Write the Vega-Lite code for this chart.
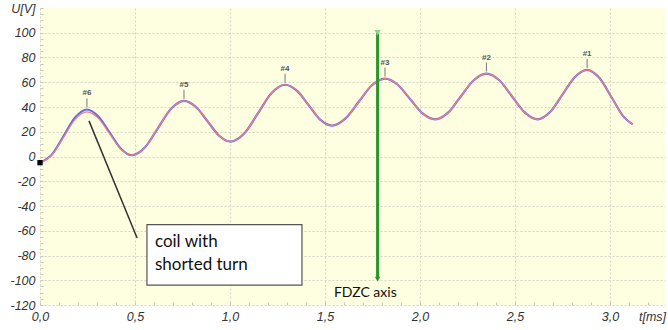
{
  "$schema": "https://vega.github.io/schema/vega-lite/v6.json",
  "width": 625,
  "height": 297,
  "autosize": "none",
  "padding": {"left": 40, "top": 8, "right": 3, "bottom": 25},
  "background": "white",
  "config": {
    "view": {"stroke": null, "fill": "#fefee0"},
    "axis": {
      "labelFont": "Liberation Sans",
      "labelFontStyle": "italic",
      "labelFontSize": 12.5,
      "labelColor": "#333333",
      "domain": false,
      "gridColor": "#d4d4c4",
      "gridDash": [2, 2],
      "gridWidth": 1,
      "tickColor": "#c8c8b8",
      "titleFont": "Liberation Sans",
      "titleFontStyle": "italic",
      "titleFontWeight": "normal",
      "titleFontSize": 12.5,
      "titleColor": "#333333"
    }
  },
  "datasets": {
    "wave": [
      {"t": 0.0, "u1": -5, "u2": -5},
      {"t": 0.062, "u1": 1.5, "u2": 1},
      {"t": 0.124, "u1": 16.5, "u2": 15.5},
      {"t": 0.185, "u1": 31.5, "u2": 30},
      {"t": 0.247, "u1": 38, "u2": 36},
      {"t": 0.306, "u1": 32.5, "u2": 31},
      {"t": 0.366, "u1": 19.5, "u2": 18.5},
      {"t": 0.425, "u1": 6.5, "u2": 6},
      {"t": 0.484, "u1": 1, "u2": 1},
      {"t": 0.553, "u1": 7.4, "u2": 7.4},
      {"t": 0.621, "u1": 23, "u2": 23},
      {"t": 0.69, "u1": 38.6, "u2": 38.6},
      {"t": 0.758, "u1": 45, "u2": 45},
      {"t": 0.82, "u1": 40.2, "u2": 40.2},
      {"t": 0.882, "u1": 28.5, "u2": 28.5},
      {"t": 0.943, "u1": 16.8, "u2": 16.8},
      {"t": 1.005, "u1": 12, "u2": 12},
      {"t": 1.076, "u1": 18.7, "u2": 18.7},
      {"t": 1.148, "u1": 35, "u2": 35},
      {"t": 1.219, "u1": 51.3, "u2": 51.3},
      {"t": 1.29, "u1": 58, "u2": 58},
      {"t": 1.352, "u1": 53.2, "u2": 53.2},
      {"t": 1.414, "u1": 41.5, "u2": 41.5},
      {"t": 1.475, "u1": 29.8, "u2": 29.8},
      {"t": 1.537, "u1": 25, "u2": 25},
      {"t": 1.607, "u1": 30.6, "u2": 30.6},
      {"t": 1.677, "u1": 44, "u2": 44},
      {"t": 1.746, "u1": 57.4, "u2": 57.4},
      {"t": 1.816, "u1": 63, "u2": 63},
      {"t": 1.882, "u1": 58.2, "u2": 58.2},
      {"t": 1.948, "u1": 46.5, "u2": 46.5},
      {"t": 2.014, "u1": 34.8, "u2": 34.8},
      {"t": 2.08, "u1": 30, "u2": 30},
      {"t": 2.148, "u1": 35.4, "u2": 35.4},
      {"t": 2.215, "u1": 48.5, "u2": 48.5},
      {"t": 2.283, "u1": 61.6, "u2": 61.6},
      {"t": 2.35, "u1": 67, "u2": 67},
      {"t": 2.418, "u1": 61.6, "u2": 61.6},
      {"t": 2.485, "u1": 48.5, "u2": 48.5},
      {"t": 2.553, "u1": 35.4, "u2": 35.4},
      {"t": 2.62, "u1": 30, "u2": 30},
      {"t": 2.685, "u1": 35.9, "u2": 35.9},
      {"t": 2.75, "u1": 50, "u2": 50},
      {"t": 2.815, "u1": 64.1, "u2": 64.1},
      {"t": 2.88, "u1": 70, "u2": 70},
      {"t": 2.945, "u1": 63.4, "u2": 63.4},
      {"t": 3.01, "u1": 47.5, "u2": 47.5},
      {"t": 3.075, "u1": 31.6, "u2": 31.6},
      {"t": 3.12, "u1": 26, "u2": 26}
    ],
    "peaks": [
      {"label": "#6", "t": 0.247, "U": 38},
      {"label": "#5", "t": 0.758, "U": 45},
      {"label": "#4", "t": 1.29, "U": 58},
      {"label": "#3", "t": 1.816, "U": 63},
      {"label": "#2", "t": 2.35, "U": 67},
      {"label": "#1", "t": 2.88, "U": 70}
    ]
  },
  "layer": [
    {
      "data": {"name": "wave"},
      "transform": [{"fold": ["u1", "u2"], "as": ["series", "U"]}],
      "mark": {"type": "line", "interpolate": "monotone"},
      "encoding": {
        "x": {
          "field": "t", "type": "quantitative",
          "scale": {"domain": [0, 3.29], "nice": false, "zero": false},
          "axis": {
            "values": [0, 0.1, 0.2, 0.3, 0.4, 0.5, 0.6, 0.7, 0.8, 0.9, 1.0, 1.1, 1.2, 1.3, 1.4, 1.5, 1.6, 1.7, 1.8, 1.9, 2.0, 2.1, 2.2, 2.3, 2.4, 2.5, 2.6, 2.7, 2.8, 2.9, 3.0, 3.1, 3.2],
            "tickCount": 200,
            "labelExpr": "round(datum.value*10) % 5 == 0 ? replace(format(datum.value, '.1f'), '.', ',') : ''",
            "gridOpacity": {"condition": {"test": "round(datum.value*10) % 5 == 0", "value": 1}, "value": 0},
            "tickSize": -3,
            "labelPadding": 8,
            "labelFlush": false,
            "labelOverlap": false,
            "title": "t[ms]",
            "titleX": 612,
            "titleY": 11,
            "titleAlign": "center",
            "titleBaseline": "middle",
            "titleAngle": 0
          }
        },
        "y": {
          "field": "U", "type": "quantitative",
          "scale": {"domain": [-120, 120], "nice": false},
          "axis": {
            "values": [-120, -115, -110, -105, -100, -95, -90, -85, -80, -75, -70, -65, -60, -55, -50, -45, -40, -35, -30, -25, -20, -15, -10, -5, 0, 5, 10, 15, 20, 25, 30, 35, 40, 45, 50, 55, 60, 65, 70, 75, 80, 85, 90, 95, 100, 105, 110, 115, 120],
            "tickCount": 200,
            "labelExpr": "datum.value == 120 ? 'U[V]' : (datum.value % 20 == 0 ? '' + datum.value : '')",
            "gridOpacity": {"condition": {"test": "datum.value % 20 == 0 && datum.value != 120", "value": 1}, "value": 0},
            "tickSize": -3,
            "labelPadding": 8,
            "labelFlush": false,
            "labelOverlap": false,
            "title": null
          }
        },
        "color": {
          "field": "series", "type": "nominal",
          "scale": {"domain": ["u1", "u2"], "range": ["#6a6ae6", "#f08080"]},
          "legend": null
        },
        "strokeWidth": {
          "field": "series", "type": "nominal",
          "scale": {"domain": ["u1", "u2"], "range": [2.2, 1.2]},
          "legend": null
        }
      }
    },
    {
      "data": {"name": "peaks"},
      "mark": {"type": "rule", "color": "#777777", "strokeWidth": 1, "yOffset": -2, "y2Offset": -11},
      "encoding": {
        "x": {"field": "t", "type": "quantitative"},
        "y": {"field": "U", "type": "quantitative"},
        "y2": {"field": "U"}
      }
    },
    {
      "data": {"name": "peaks"},
      "mark": {"type": "text", "dy": -16, "fontSize": 8, "font": "Liberation Sans", "fontWeight": "bold", "color": "#555555", "baseline": "middle"},
      "encoding": {
        "x": {"field": "t", "type": "quantitative"},
        "y": {"field": "U", "type": "quantitative"},
        "text": {"field": "label"}
      }
    },
    {
      "data": {"values": [{"t": 0, "U": -5}]},
      "mark": {"type": "point", "shape": "square", "filled": true, "size": 28, "color": "black", "opacity": 1},
      "encoding": {
        "x": {"field": "t", "type": "quantitative"},
        "y": {"field": "U", "type": "quantitative"}
      }
    },
    {
      "data": {"values": [{"t": 0.258, "U": 28.8, "t2": 0.511, "U2": -65.9}]},
      "mark": {"type": "rule", "color": "#333333", "strokeWidth": 1.5},
      "encoding": {
        "x": {"field": "t", "type": "quantitative"},
        "y": {"field": "U", "type": "quantitative"},
        "x2": {"field": "t2"},
        "y2": {"field": "U2"}
      }
    },
    {
      "data": {"values": [{"t": 0.563, "t2": 1.379, "U": -55, "U2": -104}]},
      "mark": {"type": "rect", "fill": "white", "stroke": "#555555", "strokeWidth": 1.2},
      "encoding": {
        "x": {"field": "t", "type": "quantitative"},
        "x2": {"field": "t2"},
        "y": {"field": "U", "type": "quantitative"},
        "y2": {"field": "U2"}
      }
    },
    {
      "data": {"values": [{"t": 0.605, "U": -69, "label": "coil with"}, {"t": 0.605, "U": -88, "label": "shorted turn"}]},
      "mark": {"type": "text", "align": "left", "baseline": "middle", "font": "Lato", "fontSize": 17, "color": "#111111"},
      "encoding": {
        "x": {"field": "t", "type": "quantitative"},
        "y": {"field": "U", "type": "quantitative"},
        "text": {"field": "label"}
      }
    },
    {
      "data": {"values": [{"t": 1.777, "U": 100, "U2": -99}]},
      "mark": {"type": "rule", "color": "#2a952a", "strokeWidth": 3},
      "encoding": {
        "x": {"field": "t", "type": "quantitative"},
        "y": {"field": "U", "type": "quantitative"},
        "y2": {"field": "U2"}
      }
    },
    {
      "data": {"values": [{"t": 1.777, "U": 100}]},
      "mark": {"type": "point", "shape": "triangle-down", "filled": true, "size": 40, "color": "#8fd28f", "opacity": 1},
      "encoding": {
        "x": {"field": "t", "type": "quantitative"},
        "y": {"field": "U", "type": "quantitative"}
      }
    },
    {
      "data": {"values": [{"t": 1.777, "U": -99}]},
      "mark": {"type": "point", "shape": "triangle-down", "filled": true, "size": 30, "color": "#2a952a", "opacity": 1},
      "encoding": {
        "x": {"field": "t", "type": "quantitative"},
        "y": {"field": "U", "type": "quantitative"}
      }
    },
    {
      "data": {"values": [{"t": 1.547, "U": -110, "label": "FDZC axis"}]},
      "mark": {"type": "text", "align": "left", "baseline": "middle", "font": "Lato", "fontSize": 14, "color": "#111111"},
      "encoding": {
        "x": {"field": "t", "type": "quantitative"},
        "y": {"field": "U", "type": "quantitative"},
        "text": {"field": "label"}
      }
    }
  ]
}
